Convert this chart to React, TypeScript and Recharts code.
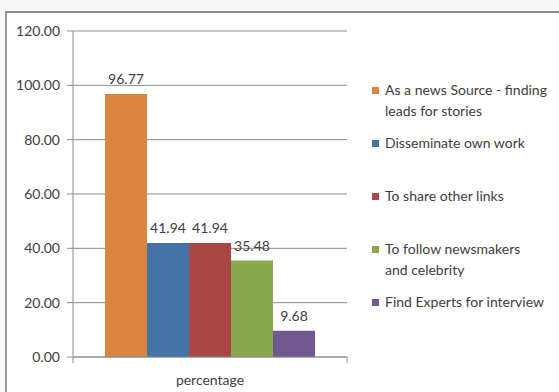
import React from 'react';
import { BarChart, Bar, XAxis, YAxis, CartesianGrid, LabelList, Legend } from 'recharts';

const categories = ['percentage'];

const seriesNames = [
  'As a news Source - finding leads for stories',
  'Disseminate own work',
  'To share other links',
  'To follow newsmakers and celebrity',
  'Find Experts for interview',
];

const seriesValues = [96.77, 41.94, 41.94, 35.48, 9.68];

const seriesColors = ['#DB843D', '#4572A7', '#AA4643', '#89A54E', '#71588F'];

// how the legend wraps each label in the reference
const legendLines = [
  ['As a news Source - finding', 'leads for stories'],
  ['Disseminate own work'],
  ['To share other links'],
  ['To follow newsmakers', 'and celebrity'],
  ['Find Experts for interview'],
];

const yTicks = [0, 20, 40, 60, 80, 100, 120];

const chartData = categories.map((name) => {
  const row: Record<string, string | number> = { name };
  seriesValues.forEach((v, i) => {
    row[`s${i}`] = v;
  });
  return row;
});

const FONT = 'Lato, "Open Sans", sans-serif';
const FS = 14;
const AXIS = '#8c8c8c';
const TEXT = '#404040';

const CategoryTick = (props: any) => {
  const { x, y, payload } = props;
  const half = 137;
  return (
    <g>
      <line x1={x - half} y1={y - 8} x2={x - half} y2={y - 2} stroke={AXIS} />
      <line x1={x + half} y1={y - 8} x2={x + half} y2={y - 2} stroke={AXIS} />
      <text x={x} y={y + 20} textAnchor="middle" fill={TEXT} fontSize={FS} fontFamily={FONT}>
        {payload.value}
      </text>
    </g>
  );
};

const renderLegend = () => (
  <div style={{ fontFamily: FONT, fontSize: FS, color: TEXT }}>
    {legendLines.map((lines, i) => (
      <div key={seriesNames[i]} style={{ height: 53, display: 'flex', alignItems: 'flex-start' }}>
        <span
          style={{
            display: 'inline-block',
            flex: 'none',
            width: 7,
            height: 7,
            background: seriesColors[i],
            marginTop: 7,
            marginRight: 6,
          }}
        />
        <div style={{ lineHeight: '20.5px', whiteSpace: 'nowrap' }}>
          {lines.map((l) => (
            <div key={l}>{l}</div>
          ))}
        </div>
      </div>
    ))}
  </div>
);

export default function App() {
  return (
    <div
      style={{
        position: 'absolute',
        left: 0,
        top: 0,
        width: 559,
        height: 392,
        background: '#f6f8fa',
        overflow: 'hidden',
      }}
    >
      <div
        style={{
          position: 'absolute',
          left: 5,
          top: 11,
          width: 600,
          height: 420,
          background: '#fff',
          borderTop: '2px solid #8c8c8c',
          borderLeft: '2px solid #9a9a9a',
        }}
      />
      <div style={{ position: 'absolute', left: 0, top: 0 }}>
        <BarChart
          width={559}
          height={392}
          data={chartData}
          margin={{ top: 31, right: 25, bottom: 5, left: 0 }}
          barCategoryGap={32}
          barGap={0}
        >
          <CartesianGrid vertical={false} stroke={AXIS} />
          <XAxis
            dataKey="name"
            height={30}
            stroke={AXIS}
            tickLine={false}
            tick={<CategoryTick />}
            interval={0}
          />
          <YAxis
            width={73}
            domain={[0, 120]}
            ticks={yTicks}
            stroke={AXIS}
            tickSize={6}
            tickMargin={7}
            tickFormatter={(v: number) => v.toFixed(2)}
            tick={{ fill: TEXT, fontSize: FS, fontFamily: FONT }}
          />
          <Legend
            layout="vertical"
            align="right"
            verticalAlign="top"
            content={renderLegend}
            wrapperStyle={{ left: 372, top: 80, width: 187 }}
          />
          {seriesNames.map((n, i) => (
            <Bar key={n} dataKey={`s${i}`} name={n} fill={seriesColors[i]} isAnimationActive={false}>
              <LabelList
                dataKey={`s${i}`}
                position="top"
                offset={10}
                formatter={(v: any) => Number(v).toFixed(2)}
                fill={TEXT}
                fontSize={FS}
                fontFamily={FONT}
              />
            </Bar>
          ))}
        </BarChart>
      </div>
    </div>
  );
}
